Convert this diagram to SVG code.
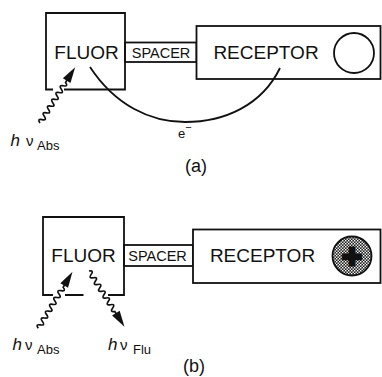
<svg xmlns="http://www.w3.org/2000/svg" xmlns:xlink="http://www.w3.org/1999/xlink" width="382" height="377" viewBox="0 0 382 377">
<style>
.ln{fill:none;stroke:#111;stroke-width:1.8;stroke-linejoin:miter}
.bx{fill:#fff;stroke:#111;stroke-width:1.8}
.t{font-family:"Liberation Sans",Arial,sans-serif;fill:#111}
.big{font-size:19px}
.sp{font-size:14.5px}
.lab{font-size:18px}
</style>
<defs>
<g id="wv">
<path d="M0,0 q2,-5 4,0 t4,0 t4,0 t4,0 t4,0 t4,0 t4,0 t4,0 t4,0 t4,0 t4,0 t4,0 L52,0" fill="none" stroke="#111" stroke-width="1.7"/>
<polygon points="50,-4.5 66,0 50,4.5" fill="#111"/>
</g>
<pattern id="stip" width="3" height="3" patternUnits="userSpaceOnUse">
<rect width="3" height="3" fill="#222"/>
<rect x="0" y="0" width="1.4" height="1.4" fill="#fff"/>
<rect x="1.5" y="1.5" width="1.4" height="1.4" fill="#fff"/>
</pattern>
</defs>
<rect width="382" height="377" fill="#fff"/>

<!-- Panel (a) -->
<g id="spacer-a">
<rect class="bx" x="125" y="42.5" width="71.5" height="19.5"/>
<text class="t sp" x="161" y="57.5" text-anchor="middle">SPACER</text>
</g>
<g id="fluor-a">
<path class="ln" d="M53,89.5 H46 V13 H125 V89.5 H64"/>
<text class="t big" x="86.5" y="58.5" text-anchor="middle">FLUOR</text>
</g>
<g id="receptor-a">
<rect class="bx" x="196.5" y="26" width="184" height="53"/>
<text class="t big" x="266" y="59" text-anchor="middle">RECEPTOR</text>
<circle cx="354" cy="53" r="20" fill="#fff" stroke="#111" stroke-width="1.8"/>
</g>

<!-- Panel (b) -->
<g id="spacer-b">
<rect class="bx" x="124" y="245" width="69" height="21"/>
<text class="t sp" x="157.5" y="260.7" text-anchor="middle">SPACER</text>
</g>
<g id="fluor-b">
<path class="ln" d="M53,295 H43 V217 H124 V295 H108 M65,295 H83.5"/>
<text class="t big" x="83.5" y="262" text-anchor="middle">FLUOR</text>
</g>
<g id="receptor-b">
<rect class="bx" x="193" y="229.5" width="187.5" height="53.5"/>
<text class="t big" x="262.5" y="261.5" text-anchor="middle">RECEPTOR</text>
<circle cx="352" cy="256" r="19.5" fill="url(#stip)" stroke="#111" stroke-width="1.8"/>
<text class="t" x="352" y="268" text-anchor="middle" font-size="34" font-weight="bold" stroke="#111" stroke-width="3">+</text>
</g>

<!-- Connectors -->
<g id="connectors">
<path class="ln" d="M90,67 C115,105 150,122 185,122 C225,122 262,105 280,68"/>
<use xlink:href="#wv" transform="translate(40,123) rotate(-57.8)"/>
<use xlink:href="#wv" transform="translate(38.3,328.3) rotate(-58.8)"/>
<use xlink:href="#wv" transform="translate(89,271) rotate(57.5)"/>
</g>

<!-- Labels -->
<g id="labels">
<text class="t" x="178" y="137.5" font-size="13">e<tspan font-size="11" dy="-7">−</tspan></text>
<text class="t" x="10.5" y="146"><tspan font-style="italic" font-size="17">h</tspan><tspan x="26" font-size="15">ν</tspan><tspan x="37" dy="3.5" font-size="13">Abs</tspan></text>
<text class="t lab" x="196" y="172" text-anchor="middle">(a)</text>
<text class="t" x="12.5" y="350"><tspan font-style="italic" font-size="17">h</tspan><tspan x="25" font-size="15">ν</tspan><tspan x="37" dy="3.5" font-size="13">Abs</tspan></text>
<text class="t" x="108" y="350"><tspan font-style="italic" font-size="17">h</tspan><tspan x="120" font-size="15">ν</tspan><tspan x="133" dy="3.5" font-size="13">Flu</tspan></text>
<text class="t lab" x="194" y="372" text-anchor="middle">(b)</text>
</g>
</svg>
